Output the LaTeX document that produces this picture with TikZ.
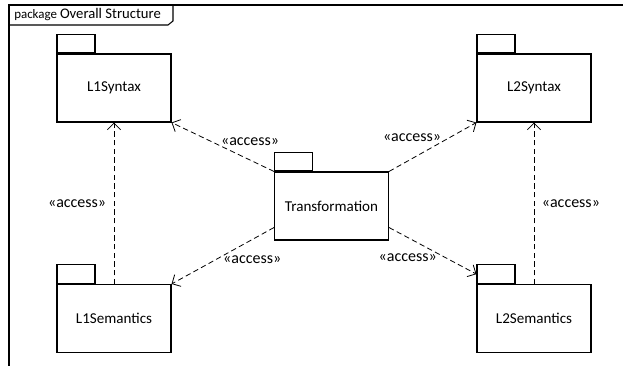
\documentclass[tikz,border=0pt]{standalone}
\usepackage{fontspec}
\setmainfont{Carlito}
\usetikzlibrary{arrows.meta,positioning}

\begin{document}
\begin{tikzpicture}[x=0.75pt,y=-0.75pt,node distance=2cm,on grid,
    pkg/.style={draw,line width=0.8pt,minimum width=85.5pt,minimum height=51pt,
      inner sep=0pt,font=\fontsize{11.3}{13}\selectfont},
    pkgtab/.style={draw,line width=0.8pt,minimum width=28.5pt,minimum height=14pt,
      inner sep=0pt,anchor=south west},
    access/.style={dash pattern=on 4pt off 2.5pt,line width=0.6pt,
      -{Straight Barb[length=5pt,width=10pt]}},
    lbl/.style={font=\fontsize{12}{14}\selectfont,inner sep=0pt}]
    \useasboundingbox (0,0) rectangle (623,366);

    % frame
    \draw[line width=0.8pt] (9,366) -- (9,5) -- (623,5);
    \node[anchor=base west,inner sep=0pt] (title) at (14,19)
        {{\fontsize{9.7}{12}\selectfont package} \fontsize{11}{14}\selectfont Overall Structure};
    \draw[line width=0.8pt] (9,25) -- (168,25) -- (173,21) -- (173,5);

    % packages
    \node[pkg] (l1syn) at (114,88) {L1Syntax};
    \node[pkg, right=315pt of l1syn] (l2syn) {L2Syntax};
    \node[pkg, below=172.9pt of l1syn] (l1sem) {L1Semantics};
    \node[pkg, below=172.9pt of l2syn] (l2sem) {L2Semantics};
    \node[pkg] (trans) at (331.5,206) {Transformation};
    \foreach \p in {l1syn,l2syn,l1sem,l2sem,trans}
        \node[pkgtab] (\p-tab) at (\p.north west) {};

    % dependencies
    \path[access]
        (l1sem) edge node[lbl,midway,left=5.6pt] {«access»} (l1syn)
        (l2sem) edge node[lbl,midway,right=5.6pt] {«access»} (l2syn)
        (trans.north west) edge node[lbl,pos=0.52,above right] {«access»} (l1syn.south east)
        (trans.north east) edge node[lbl,pos=0.6,above left] {«access»} (l2syn.south west)
        ([yshift=9.75pt]trans.south west) edge node[lbl,midway,below right] {«access»} (l1sem.north east)
        ([yshift=9.75pt]trans.south east) edge node[lbl,pos=0.55,below left] {«access»} (l2sem-tab.west);
\end{tikzpicture}
\end{document}
